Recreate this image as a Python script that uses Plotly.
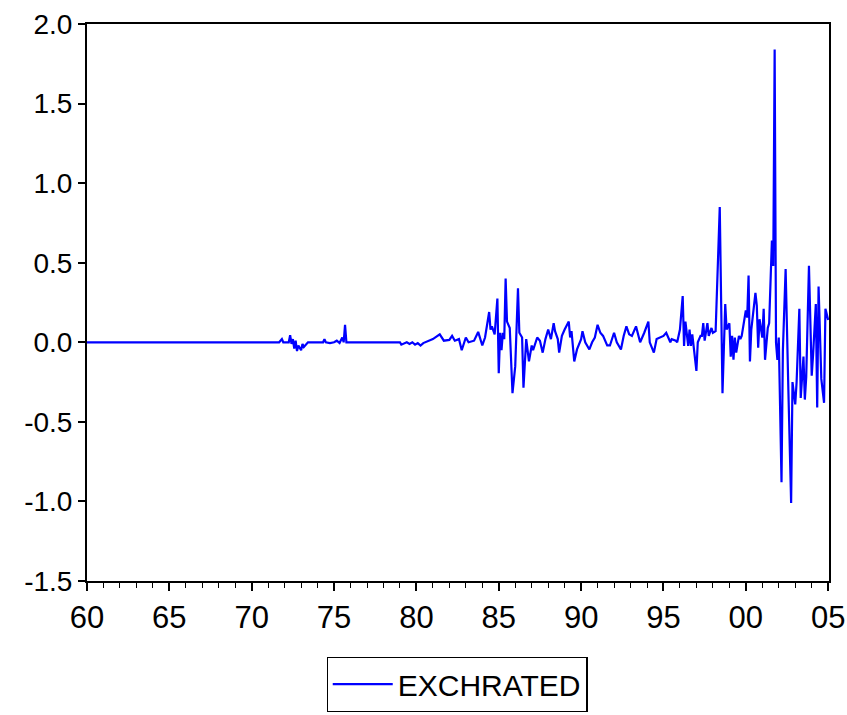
import plotly.graph_objects as go

dates = [
    "1960-01", "1971-09", "1971-11", "1971-12", "1972-04", "1972-05", "1972-06", "1972-07",
    "1972-08", "1972-09", "1972-10", "1972-11", "1973-01", "1973-02", "1973-03", "1973-05",
    "1973-06", "1974-05", "1974-06", "1974-07", "1974-10", "1975-01", "1975-03", "1975-05",
    "1975-07", "1975-08", "1975-09", "1975-10", "1979-01", "1979-02", "1979-04", "1979-06",
    "1979-08", "1979-10", "1979-12", "1980-02", "1980-04", "1980-06",
    "1981-01", "1981-06", "1981-09", "1982-01", "1982-03", "1982-05", "1982-08", "1982-10",
    "1983-01", "1983-03", "1983-07", "1983-10", "1984-01", "1984-03", "1984-06", "1984-07",
    "1984-08", "1984-10", "1984-12", "1985-01", "1985-02", "1985-03", "1985-04", "1985-05",
    "1985-06", "1985-07", "1985-09", "1985-11", "1986-01", "1986-03", "1986-04", "1986-06",
    "1986-07", "1986-09", "1986-11", "1987-01", "1987-02", "1987-05", "1987-07", "1987-09",
    "1987-11", "1988-01", "1988-03", "1988-05", "1988-06", "1988-08", "1988-09", "1988-11",
    "1989-01", "1989-04", "1989-05", "1989-06", "1989-08", "1989-10", "1990-01", "1990-02",
    "1990-04", "1990-07", "1990-09", "1990-11", "1991-01", "1991-03", "1991-05", "1991-08",
    "1991-10", "1992-01", "1992-03", "1992-06", "1992-08", "1992-10", "1992-12", "1993-02",
    "1993-05", "1993-07", "1993-08", "1993-11", "1994-02", "1994-03", "1994-06", "1994-08",
    "1994-11", "1995-01", "1995-03", "1995-06", "1995-07", "1995-10", "1995-11",
    "1996-01", "1996-03", "1996-04", "1996-05", "1996-07", "1996-08", "1996-09", "1996-10",
    "1997-01", "1997-02", "1997-04", "1997-05", "1997-06", "1997-07", "1997-09", "1997-10",
    "1997-12", "1998-01", "1998-03", "1998-06", "1998-07", "1998-08", "1998-10", "1998-11",
    "1999-01", "1999-02", "1999-03", "1999-04", "1999-05", "1999-06", "1999-08", "1999-09",
    "1999-10", "2000-01", "2000-02", "2000-03", "2000-04", "2000-05", "2000-08", "2000-09",
    "2000-10", "2000-11", "2001-01", "2001-02", "2001-03", "2001-05", "2001-06", "2001-08",
    "2001-09", "2001-10", "2001-11", "2001-12", "2002-01", "2002-03", "2002-04", "2002-06",
    "2002-08", "2002-10", "2002-11", "2003-01", "2003-02", "2003-04", "2003-05", "2003-07",
    "2003-08", "2003-09", "2003-11", "2004-01", "2004-02", "2004-04", "2004-05", "2004-06",
    "2004-08", "2004-10", "2004-11", "2005-01",
]
exchrated = [
    0.0, 0.0, 0.02, 0.0, 0.0, 0.045, -0.01, 0.02,
    -0.04, 0.01, -0.055, -0.02, -0.05, -0.01, -0.03, -0.005,
    0.0, 0.0, 0.02, 0.0, -0.005, 0.0, 0.01, -0.005,
    0.03, 0.0, 0.11, 0.0, 0.0, -0.015, -0.005, 0.0,
    -0.01, 0.0, -0.015, -0.005, -0.02, -0.005,
    0.02, 0.05, 0.01, 0.015, 0.04, 0.01, 0.02, -0.05,
    0.03, 0.0, 0.01, 0.065, -0.02, 0.03, 0.19, 0.08,
    0.10, 0.05, 0.275, -0.195, 0.06, -0.05, 0.06, 0.02,
    0.40, 0.13, 0.09, -0.32, -0.15, 0.34, 0.06, 0.03,
    -0.285, 0.02, -0.12, -0.02, -0.05, 0.03, 0.01, -0.065,
    0.02, 0.08, 0.02, 0.12, 0.07, 0.02, -0.065, 0.04,
    0.08, 0.13, 0.03, 0.07, -0.12, -0.045, 0.02, 0.07,
    0.0, -0.045, 0.0, 0.03, 0.11, 0.06, 0.04, -0.02,
    -0.02, 0.06, 0.0, -0.045, 0.04, 0.10, 0.05, 0.04,
    0.10, 0.03, 0.0, 0.06, 0.13, 0.0, -0.065, 0.02,
    0.03, 0.04, 0.06, 0.0, 0.02, 0.01, 0.0,
    0.08, 0.29, -0.023, 0.13, -0.023, 0.08, -0.023, 0.05,
    -0.18, 0.0, 0.04, 0.04, 0.12, 0.01, 0.12, 0.04,
    0.09, 0.06, 0.07, 0.85, 0.06, -0.32, 0.24, 0.08,
    0.12, -0.09, 0.04, -0.11, 0.03, -0.065, 0.04, 0.02,
    0.04, 0.20, 0.155, 0.42, -0.12, 0.08, 0.31, 0.23,
    -0.034, 0.145, 0.03, 0.21, -0.11, 0.09, 0.12, 0.64,
    0.48, 1.84, -0.002, -0.11, 0.03, -0.88, -0.05, 0.46,
    -0.30, -1.01, -0.25, -0.39, -0.25, 0.21, -0.35, -0.09,
    -0.36, -0.22, 0.48, -0.21, -0.08, 0.24, -0.41, 0.35,
    -0.23, -0.38, 0.21, 0.14,
]

x_tick_years = [1960, 1965, 1970, 1975, 1980, 1985, 1990, 1995, 2000, 2005]
x_tick_labels = ["60", "65", "70", "75", "80", "85", "90", "95", "00", "05"]
y_tick_vals = [-1.5, -1.0, -0.5, 0.0, 0.5, 1.0, 1.5, 2.0]
y_tick_labels = ["-1.5", "-1.0", "-0.5", "0.0", "0.5", "1.0", "1.5", "2.0"]

xs = [int(d[:4]) + (int(d[5:7]) - 1) / 12.0 for d in dates]

fig = go.Figure()
fig.add_trace(go.Scatter(
    x=xs, y=exchrated, mode="lines", name="EXCHRATED",
    line=dict(color="#0000FF", width=2.2),
))

fig.update_layout(
    width=847, height=715,
    margin=dict(l=87, r=18, t=24, b=134),
    paper_bgcolor="white", plot_bgcolor="white",
    font=dict(family="Liberation Sans, Arial, sans-serif", size=24, color="black"),
    showlegend=True,
    legend=dict(
        x=0.4987, xanchor="center", yref="container", y=0.0042, yanchor="bottom",
        orientation="h", bordercolor="black", borderwidth=1.2,
        font=dict(size=30), itemwidth=60, tracegroupgap=0,
    ),
)
fig.update_xaxes(
    range=[1960, 2005.05], tickmode="array",
    tickvals=x_tick_years, ticktext=x_tick_labels,
    ticks="outside", ticklen=8, tickwidth=1.5, tickcolor="black",
    minor=dict(dtick=1, tick0=1960, ticks="outside", ticklen=5, tickwidth=1.2, tickcolor="black", showgrid=False),
    showline=True, linecolor="black", linewidth=2, mirror=True,
    showgrid=False, zeroline=False, automargin=False,
    tickfont=dict(size=31),
)
fig.update_yaxes(
    range=[-1.5, 2.0], tickmode="array",
    tickvals=y_tick_vals, ticktext=y_tick_labels,
    ticks="outside", ticklen=7, tickwidth=1.5, tickcolor="black",
    showline=True, linecolor="black", linewidth=2, mirror=True,
    showgrid=False, zeroline=False, automargin=False,
    tickfont=dict(size=28),
)

fig.write_html(
    "out.html",
    config={"displayModeBar": False},
    post_script="document.body.style.margin='0';document.body.style.overflow='hidden';",
)
